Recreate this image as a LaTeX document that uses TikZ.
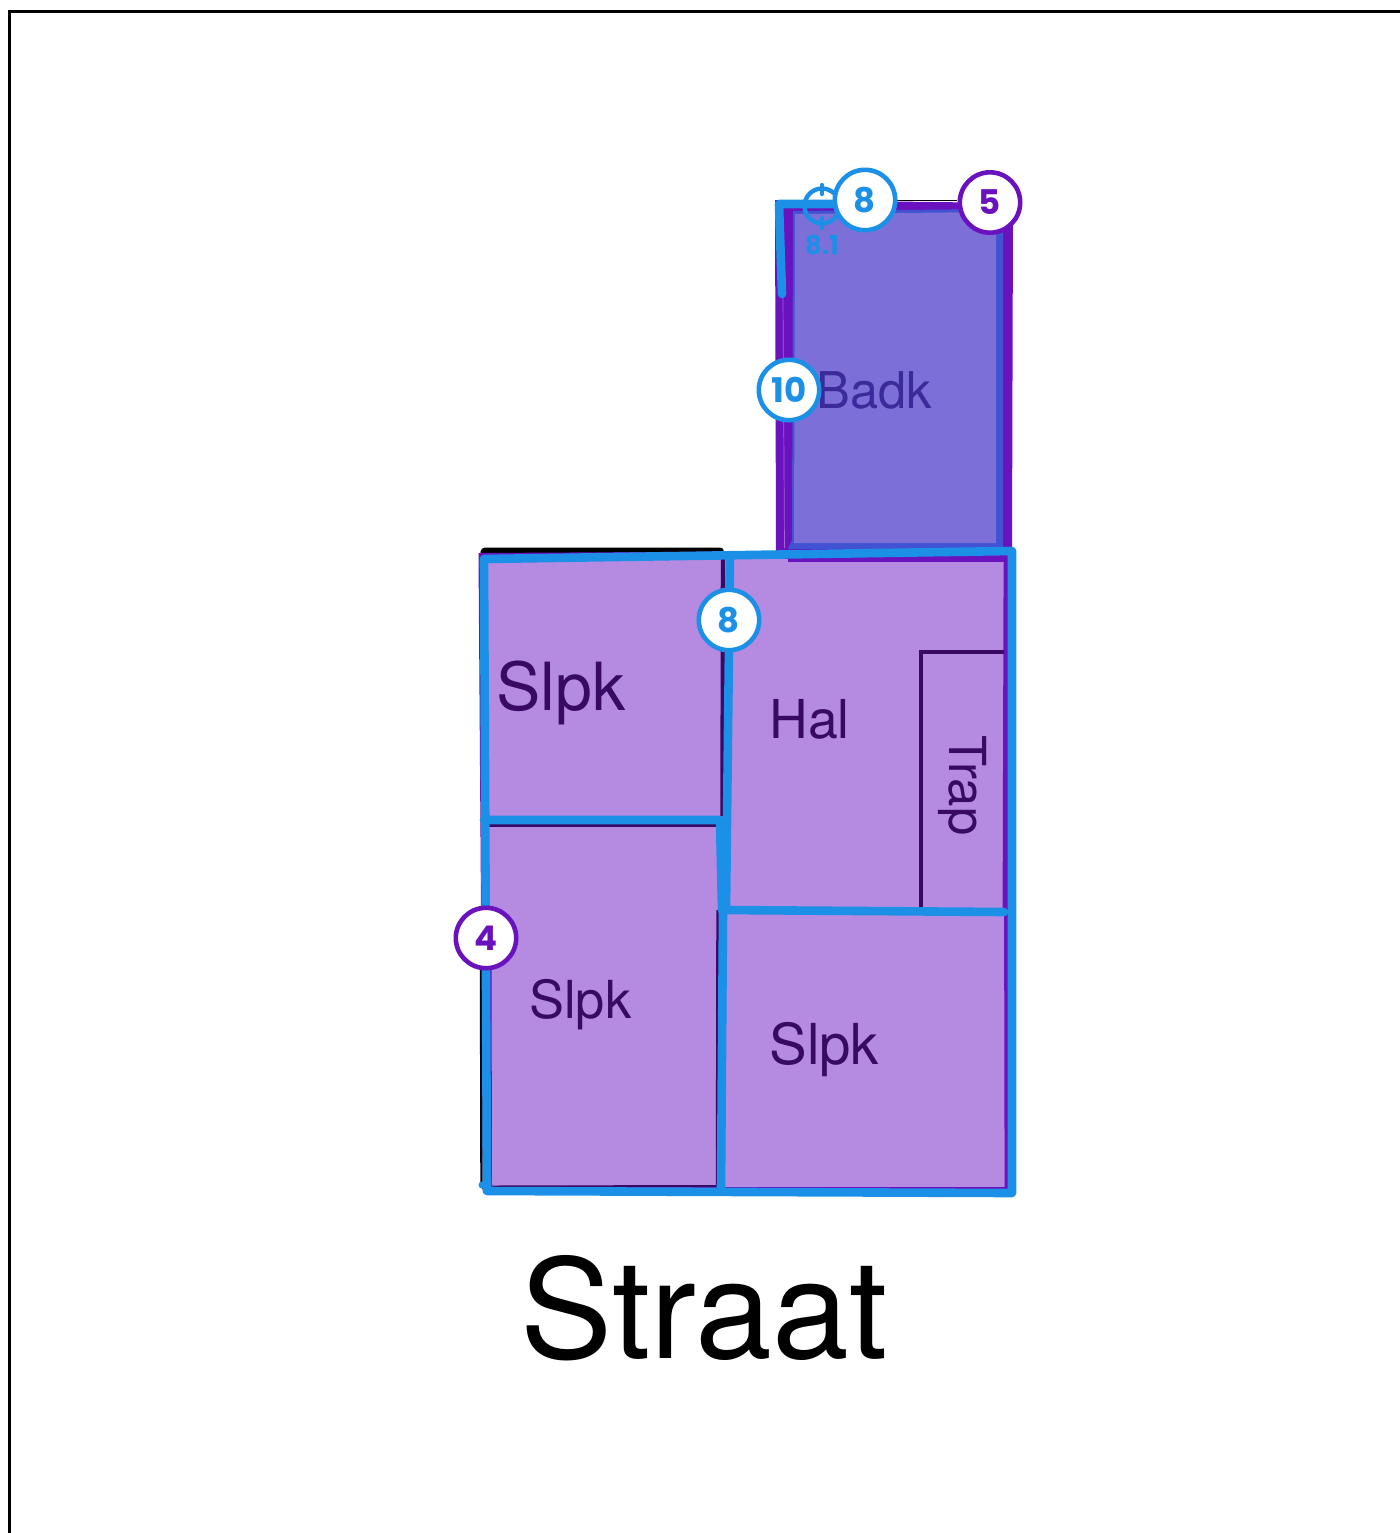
\documentclass[tikz,border=0pt]{standalone}
\usepackage{fontspec}
\setmainfont{TeX Gyre Heros}
\newfontfamily\badgefont{Poppins}[BoldFont={Poppins Bold}]
\definecolor{wallblue}{HTML}{1C8FE6}
\definecolor{wallpurple}{HTML}{6A12BD}
\definecolor{roomfill}{HTML}{B48BE0}
\definecolor{bathfill}{HTML}{7C70D8}
\definecolor{bathedge}{HTML}{4153D2}
\definecolor{darkwall}{HTML}{380A63}
\definecolor{bathtext}{HTML}{3A2A9A}
\tikzset{
  bluewall/.style={draw=wallblue,line width=4.3pt,line cap=round,line join=round},
  darkline/.style={draw=darkwall,line width=2.2pt},
  roomlabel/.style={text=darkwall,inner sep=0pt,anchor=base west},
  bluebadge/.style={circle,draw=wallblue,fill=white,line width=2.3pt,minimum size=30.2pt,inner sep=0pt,text=wallblue,font=\badgefont\bfseries\fontsize{17}{17}\selectfont},
  purplebadge/.style={bluebadge,draw=wallpurple,text=wallpurple},
}
\begin{document}
\begin{tikzpicture}[x=0.5pt,y=-0.5pt]
\useasboundingbox (0,0) rectangle (1400,1533);
\fill[white] (0,0) rectangle (1400,1533);
% page frame
\draw[black,line width=1.4pt] (9.5,1533) -- (9.5,11.5) -- (1400,11.5);
% bathroom
\fill[wallpurple] (775,200) -- (1013,203) -- (1012,553) -- (776,553) -- cycle;
\fill[bathedge] (793,211) -- (1003,209) -- (1003,549) -- (788,549) -- (792,540) -- cycle;
\fill[bathfill] (795,214) -- (996,212) -- (996,543) -- (794,543) -- cycle;
\draw[black,line width=0.9pt] (897,200.5) -- (957,200.5);
\draw[white!35!wallpurple,line width=0.35pt] (783,296) -- (784.5,548);
% lower floor
\fill[black,rounded corners=2pt] (480,556) -- (481,547.5) -- (724,547.5) -- (724,556) -- cycle;
\fill[wallpurple] (478.5,553) -- (1012,550) -- (1012,1193) -- (483,1193) -- cycle;
\fill[roomfill] (484,558) -- (1005,560) -- (1005.5,1187) -- (490,1187) -- cycle;
\draw[wallpurple,line width=2.4pt] (788,559.5) -- (1006,559.5) -- (1005,912);
\draw[wallpurple,line width=1.4pt] (725,1188.5) -- (1006,1188.5) -- (1005.5,912);
\draw[wallpurple,line width=1pt] (490.5,960) -- (491,1186);
\draw[darkwall,line width=1pt] (491,1186.5) -- (720,1186);
\draw[black!80!darkwall,line width=1.2pt] (481,970) -- (481.5,1186) -- (485,1190);
% dark inner walls
\draw[darkline] (723,557) -- (722.5,816);
\draw[darkwall,line width=1.4pt] (486,825.5) -- (718,825.5);
\draw[darkline] (718.5,910) -- (718,1186);
\draw[draw=darkwall,line width=2pt] (1004,652) -- (921,652) -- (921,909);
% blue strokes
\draw[bluewall] (484,559) -- (1012,551) -- (1012,1193) -- (487,1191) -- (484,559);
\fill[wallblue] (482,1185) circle (3.5);
\draw[bluewall] (730,556) -- (726,910);
\draw[bluewall] (484,820) -- (720,820) -- (722,910);
\draw[bluewall] (722,910) -- (1004,912);
\draw[bluewall] (723,912) -- (721,1190);
\draw[bluewall] (782,294) -- (779,204) -- (850,204);
% crosshair
\draw[wallblue,line width=2.2pt] (822,206) circle (17.5);
\draw[wallblue,line width=2.2pt,line cap=round]
  (822,185) -- (822,194) (822,218) -- (822,228)
  (800,206) -- (806,206) (838,206) -- (845,206);
\node (crosslabel) at (822,245) [text=wallblue,inner sep=0pt,font=\badgefont\bfseries\fontsize{13}{13}\selectfont] {8.1};
% labels
\node (badk) at (816,408) [text=bathtext,inner sep=0pt,anchor=base west,font=\fontsize{25.3}{25.3}\selectfont] {Badk};
\node (slpka) at (496,710) [roomlabel,font=\fontsize{33.2}{33.2}\selectfont] {Slpk};
\node (slpkb) at (529,1018) [roomlabel,font=\fontsize{26.2}{26.2}\selectfont] {Slpk};
\node (slpkc) at (769,1064) [roomlabel,font=\fontsize{28.2}{28.2}\selectfont] {Slpk};
\node (hal) at (769,738) [roomlabel,font=\fontsize{26.8}{26.8}\selectfont] {Hal};
\node (trap) at (949,735) [roomlabel,rotate=-90,font=\fontsize{25.5}{25.5}\selectfont] {Trap};
\node (straat) at (520.5,1358) [text=black,inner sep=0pt,anchor=base west,font=\fontsize{69}{69}\selectfont] {Straat};
% badges
\node[bluebadge] (b8top) at (865,200) {8};
\node[purplebadge] (b5) at (990,202.5) {5};
\node[bluebadge] (b10) at (789,390) {10};
\node[bluebadge] (b8mid) at (729,620) {8};
\node[purplebadge] (b4) at (486,938) {4};
\end{tikzpicture}
\end{document}
